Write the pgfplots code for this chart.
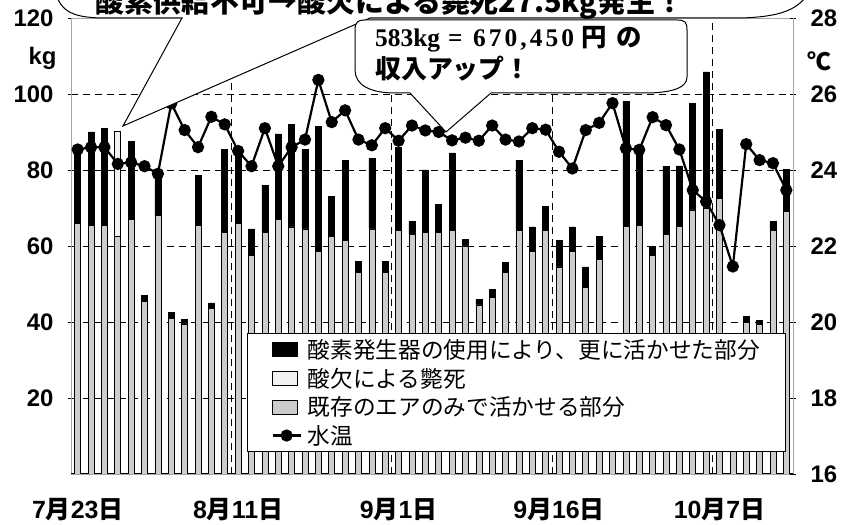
\documentclass[border=0pt]{standalone}
\usepackage{pgfplots}
\pgfplotsset{compat=1.18}
\usepackage{pgfplotstable}
\usepackage{fontspec}
\setmainfont{Liberation Sans}
\newfontfamily\jp{Noto Sans CJK JP}
\newfontfamily\tnr{Liberation Serif}
\newcommand\xl[2]{\bfseries #1{\jp\bfseries 月}#2{\jp\bfseries 日}}

\pgfplotstableread{
i kizon sanketsu sanso temp
0 66 0 19.5 24.54
1 65.5 0 24.5 24.6
2 65.5 0 25.5 24.6
3 62.6 27.5 0 24.16
4 67 0 20.5 24.2
5 45.5 0 1.5 24.1
6 68 0 11.5 23.9
7 41 0 1.5 25.75
8 39.5 0 1.2 25.05
9 65.5 0 13 24.6
10 43.5 0 1.5 25.4
11 63.5 0 22 25.2
12 66 0 19.5 24.5
13 57.5 0 7 24.1
14 63.5 0 12.5 25.1
15 67 0 22.5 24.1
16 65 0 27 24.6
17 64.5 0 21 24.8
18 58.5 0 33 26.37
19 62.5 0 10.5 25.26
20 61.5 0 21 25.57
21 53 0 3 24.8
22 64.5 0 18.5 24.65
23 53 0 3 25.1
24 64 0 22 24.77
25 63 0 3.5 25.17
26 63.5 0 16.5 25.04
27 63.5 0 7.5 25.0
28 64 0 20.5 24.78
29 60 0 1.7 24.85
30 44.5 0 1.5 24.77
31 46.5 0 2 25.17
32 53 0 2.7 24.8
33 64 0 18.5 24.75
34 58.5 0 6.5 25.1
35 64 0 6.5 25.06
36 54.5 0 7 24.48
37 58.5 0 6.5 24.04
38 49 0 5.5 25.05
39 56.5 0 6 25.24
40 25 0 0 25.76
41 65.2 0 32.8 24.57
42 65.5 0 20.5 24.53
43 57.6 0 2.2 25.39
44 63 0 18 25.18
45 65.1 0 16 24.54
46 69.5 0 28 23.47
47 70 0 35.8 23.17
48 72.5 0 18.2 22.55
49 25 0 0 21.46
50 39.8 0 1.6 24.68
51 39.3 0 1.2 24.26
52 64.2 0 2.2 24.18
53 69 0 11.2 23.47
}\datatable

\pgfplotsset{
  common/.style={
    at={(71bp,51bp)}, anchor=south west, scale only axis,
    width=722bp, height=456bp,
    xmin=-0.5, xmax=53.5,
    /pgf/number format/assume math mode=true,
    yticklabel style={font=\bfseries\fontsize{24}{24}\selectfont},
    yticklabel shift=11bp,
  },
  barleg/.style={legend image code/.code={\draw[##1] (0bp,-7bp) rectangle (25bp,7bp);}},
  lineleg/.style={legend image code/.code={\draw[##1, mark repeat=2, mark phase=2] plot coordinates {(0bp,0bp) (14bp,0bp) (28bp,0bp)};}},
}

\begin{document}
\begin{tikzpicture}[x=1bp,y=1bp]
\useasboundingbox (0,0) rectangle (853,525);
\begin{axis}[common,
  ymin=0, ymax=120,
  ybar stacked, bar width=6bp,
  ytick={20,40,60,80,100,120},
  ytick pos=left,
  extra y ticks={109.5}, extra y tick labels={kg},
  extra y tick style={grid=none, major tick length=0pt},
  ymajorgrids,
  major grid style={black, line width=0.9bp, dash pattern=on 7bp off 5bp},
  major tick length=6bp, tick align=center,
  ytick style={black, line width=0.8bp},
  xtick={0,12,24,36,48},
  xticklabels={\xl{7}{23},\xl{8}{11},\xl{9}{1},\xl{9}{16},\xl{10}{7}},
  xticklabel style={font=\fontsize{25}{25}\selectfont},
  xticklabel shift=18bp,
  xtick style={draw=none},
  extra x ticks={11.5,23.5,35.5,47.5}, extra x tick labels={},
  extra x tick style={grid=major, major tick length=0pt},
  axis line style={gray!70, line width=0.6bp},
]
\addplot[fill=gray!40, draw=black, line width=0.6bp] table[x=i,y=kizon]{\datatable};
\addplot[fill=gray!10, draw=black, line width=0.6bp] table[x=i,y=sanketsu]{\datatable};
\addplot[fill=black, draw=black, line width=0.6bp] table[x=i,y=sanso]{\datatable};
\draw[black, line width=1.6bp] (rel axis cs:0,0) -- (rel axis cs:1,0);
\end{axis}
\begin{axis}[common,
  ymin=16, ymax=28,
  axis y line*=right, axis x line=none,
  ytick={16,18,...,28},
  extra y ticks={26.85}, extra y tick labels={{\jp ℃}},
  extra y tick style={major tick length=0pt},
  major tick length=6bp, tick align=center,
  ytick style={black, line width=0.8bp},
  axis line style={gray!70, line width=0.6bp},
  legend style={at={(0.2438,0.3092)}, anchor=north west, draw=black, line width=1bp,
    fill=white, font=\jp\fontsize{22.75}{26}\selectfont, inner xsep=24bp, inner ysep=4bp,
    row sep=4bp, /tikz/every odd column/.append style={column sep=4bp}},
  legend cell align=left,
]
\addlegendimage{barleg, fill=black, draw=black}
\addlegendentry{酸素発生器の使用により、更に活かせた部分}
\addlegendimage{barleg, fill=gray!10, draw=black, line width=0.8bp}
\addlegendentry{酸欠による斃死}
\addlegendimage{barleg, fill=gray!40, draw=black, line width=0.8bp}
\addlegendentry{既存のエアのみで活かせる部分}
\addplot[black, line width=2.2bp, mark=*, mark size=5bp, lineleg]
  table[x=i,y=temp]{\datatable};
\addlegendentry{水温}
\end{axis}
% top callout
\draw[fill=white, line width=1bp]
  (50,560) -- (55,535) .. controls (60,512) and (75,508) .. (100,507) -- (182,507)
  -- (123,399) -- (370,507) -- (740,507) .. controls (780,508) and (800,515) .. (810,535)
  -- (815,560) -- cycle;
\node[anchor=base west, inner sep=0pt] at (95,512)
  {\jp\bfseries\fontsize{29}{29}\selectfont 酸素供給不可→酸欠による斃死27.5kg発生！};
% second callout
\draw[fill=white, line width=1bp]
  (365,505) -- (677,505) .. controls (685,505) and (687,503) .. (687,495) -- (687,448)
  .. controls (687,438) and (675,433) .. (650,432) -- (491,432) -- (446,393) -- (410,432)
  -- (395,432) .. controls (370,432) and (355,440) .. (355,455) -- (355,495)
  .. controls (355,503) and (358,505) .. (365,505) -- cycle;
\node[anchor=base west, inner sep=0pt] at (375,478)
  {\tnr\bfseries\fontsize{25.5}{25.5}\selectfont 583kg};
\node[anchor=base west, inner sep=0pt] at (448,478)
  {\tnr\bfseries\fontsize{25.5}{25.5}\selectfont =};
\node[anchor=base west, inner sep=0pt] at (473,478)
  {\tnr\bfseries\fontsize{25.5}{25.5}\selectfont\addfontfeature{LetterSpace=12} 670,450};
\node[anchor=base west, inner sep=0pt] at (581,478)
  {\jp\bfseries\fontsize{25.5}{25.5}\selectfont 円};
\node[anchor=base west, inner sep=0pt] at (616,478)
  {\jp\bfseries\fontsize{25.5}{25.5}\selectfont の};
\node[anchor=base west, inner sep=0pt] at (375,446)
  {\jp\bfseries\fontsize{26}{26}\selectfont 収入アップ！};
\end{tikzpicture}
\end{document}
